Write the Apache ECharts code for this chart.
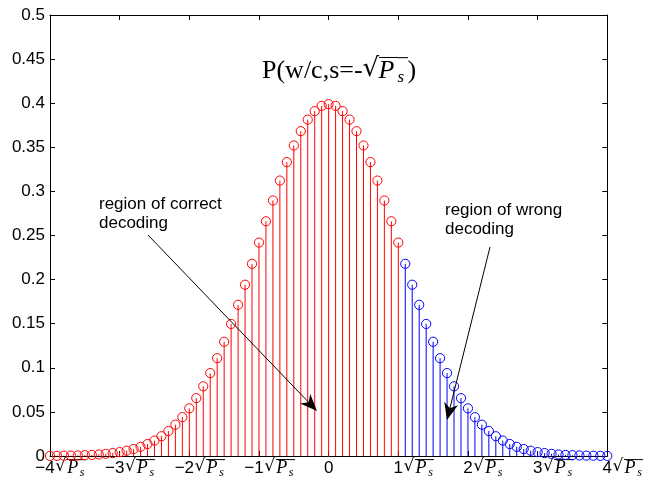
<!DOCTYPE html>
<html>
<head>
<meta charset="utf-8">
<script src="https://cdn.jsdelivr.net/npm/echarts@6/dist/echarts.min.js"></script>
<style>html,body{margin:0;padding:0;background:#fff}#c{width:646px;height:481px}</style>
</head>
<body>
<div id="c"></div>
<script>
// x positions (in units of sqrt(Ps)) and probabilities
var redX = [-4.0,-3.9,-3.8,-3.7,-3.6,-3.5,-3.4,-3.3,-3.2,-3.1,-3.0,-2.9,-2.8,-2.7,-2.6,-2.5,-2.4,-2.3,-2.2,-2.1,-2.0,-1.9,-1.8,-1.7,-1.6,-1.5,-1.4,-1.3,-1.2,-1.1,-1.0,-0.9,-0.8,-0.7,-0.6,-0.5,-0.4,-0.3,-0.2,-0.1,0.0,0.1,0.2,0.3,0.4,0.5,0.6,0.7,0.8,0.9,1.0];
var redY = [0.0001,0.0002,0.0003,0.0004,0.0006,0.0009,0.0012,0.0017,0.0024,0.0033,0.0044,0.0060,0.0079,0.0104,0.0136,0.0175,0.0224,0.0283,0.0355,0.0440,0.0540,0.0656,0.0790,0.0940,0.1109,0.1295,0.1497,0.1714,0.1942,0.2179,0.2420,0.2661,0.2897,0.3123,0.3332,0.3521,0.3683,0.3814,0.3910,0.3970,0.3989,0.3970,0.3910,0.3814,0.3683,0.3521,0.3332,0.3123,0.2897,0.2661,0.2420];
var blueX = [1.1,1.2,1.3,1.4,1.5,1.6,1.7,1.8,1.9,2.0,2.1,2.2,2.3,2.4,2.5,2.6,2.7,2.8,2.9,3.0,3.1,3.2,3.3,3.4,3.5,3.6,3.7,3.8,3.9,4.0];
var blueY = [0.2179,0.1942,0.1714,0.1497,0.1295,0.1109,0.0940,0.0790,0.0656,0.0540,0.0440,0.0355,0.0283,0.0224,0.0175,0.0136,0.0104,0.0079,0.0060,0.0044,0.0033,0.0024,0.0017,0.0012,0.0009,0.0006,0.0004,0.0003,0.0002,0.0001];
var xTicks = [-4,-3,-2,-1,0,1,2,3,4];
var yTicks = [0,0.05,0.1,0.15,0.2,0.25,0.3,0.35,0.4,0.45,0.5];
var titleMain = 'P(w/c,s=-';
var noteCorrect = 'region of correct\ndecoding';
var noteWrong = 'region of wrong\ndecoding';

function zip(xs, ys){ return xs.map(function(x,i){ return [x, ys[i]]; }); }

// small image used to draw an overline (vinculum) above a rich-text token
function barImage(h, row, thick){
  var c = document.createElement('canvas');
  c.width = 4; c.height = h;
  var ctx = c.getContext('2d');
  ctx.fillStyle = '#000';
  ctx.fillRect(0, row, 4, thick);
  return c;
}

function stemRender(color){
  return function(params, api){
    var x = api.value(0), y = api.value(1);
    var p0 = api.coord([x, 0]);
    var p1 = api.coord([x, y]);
    return {
      type: 'group',
      children: [
        {type:'line', shape:{x1:p0[0],y1:p0[1],x2:p1[0],y2:p1[1]}, style:{stroke:color,lineWidth:1}},
        {type:'circle', shape:{cx:p1[0],cy:p1[1],r:4.6}, style:{fill:'none',stroke:color,lineWidth:1}}
      ]
    };
  };
}

var RW = 12, PW = 12, SW = 7, MW = 10;
var S_W = RW + PW + SW;
var xBar = barImage(20, 1, 1);
var xRich = {
  n:{fontFamily:'Liberation Sans',fontSize:17,color:'#000',verticalAlign:'top',padding:[2,0,0,0]},
  r:{fontFamily:'DejaVu Sans',fontSize:17,color:'#000',width:RW,verticalAlign:'top',padding:[0,0,0,0]},
  p:{fontFamily:'Liberation Serif',fontStyle:'italic',fontSize:18,color:'#000',width:PW,verticalAlign:'top',padding:[1,0,0,0],backgroundColor:{image:xBar}},
  s:{fontFamily:'Liberation Serif',fontStyle:'italic',fontSize:12,color:'#000',width:SW,verticalAlign:'top',padding:[9,0,0,0],backgroundColor:{image:xBar}},
  hp:{width:S_W,verticalAlign:'top'},
  hn:{width:S_W-MW,verticalAlign:'top'}
};
var tBar = barImage(28, 1, 1);

var chart = echarts.init(document.getElementById('c'), null, {renderer:'canvas'});
var option = {
  animation:false,
  grid:{left:50,right:36,top:15,bottom:25,containLabel:false},
  xAxis:[{
    type:'value',min:-4,max:4,interval:1,position:'bottom',
    axisLine:{show:true,onZero:false,lineStyle:{color:'#000',width:1}},
    axisTick:{show:true,inside:true,length:5,lineStyle:{color:'#000'}},
    splitLine:{show:false},
    axisLabel:{margin:2,verticalAlign:'top',rich:xRich,formatter:function(v){
      if (v===0) return '{n|0}';
      var neg = v<0;
      return (neg?'{hn|}':'{hp|}') + '{n|' + (neg?'\u2212':'') + Math.abs(v) + '}{r|\u221A}{p|P}{s|s}';
    }}
  },{
    type:'value',min:-4,max:4,interval:1,position:'top',
    axisLine:{show:true,onZero:false,lineStyle:{color:'#000',width:1}},
    axisTick:{show:true,inside:true,length:5,lineStyle:{color:'#000'}},
    axisLabel:{show:false},splitLine:{show:false}
  }],
  yAxis:[{
    type:'value',min:0,max:0.5,interval:0.05,position:'left',
    axisLine:{show:true,onZero:false,lineStyle:{color:'#000',width:1}},
    axisTick:{show:true,inside:true,length:5,lineStyle:{color:'#000'}},
    splitLine:{show:false},
    axisLabel:{margin:5,fontFamily:'Liberation Sans',fontSize:17,color:'#000',formatter:function(v){return String(Math.round(v*100)/100);}}
  },{
    type:'value',min:0,max:0.5,interval:0.05,position:'right',
    axisLine:{show:true,onZero:false,lineStyle:{color:'#000',width:1}},
    axisTick:{show:true,inside:true,length:5,lineStyle:{color:'#000'}},
    axisLabel:{show:false},splitLine:{show:false}
  }],
  series:[
    {type:'custom',xAxisIndex:0,yAxisIndex:0,clip:false,renderItem:stemRender('#ff0000'),data:zip(redX,redY),z:3},
    {type:'custom',xAxisIndex:0,yAxisIndex:0,clip:false,renderItem:stemRender('#0000ff'),data:zip(blueX,blueY),z:3}
  ],
  graphic:[
    {type:'text',left:262,top:56,z:10,style:{
      text:'{a|'+titleMain+'}{r|\u221A}{p|P}{s|s}{a|)}',
      rich:{
        a:{fontFamily:'Liberation Serif',fontSize:26,color:'#000',verticalAlign:'top',padding:[2,0,0,0]},
        r:{fontFamily:'DejaVu Sans',fontSize:26,color:'#000',width:16,verticalAlign:'top',padding:[0,0,0,0]},
        p:{fontFamily:'Liberation Serif',fontStyle:'italic',fontSize:26,color:'#000',width:19,verticalAlign:'top',padding:[2,0,0,0],backgroundColor:{image:tBar}},
        s:{fontFamily:'Liberation Serif',fontStyle:'italic',fontSize:17,color:'#000',width:10,verticalAlign:'top',padding:[13,0,0,0],backgroundColor:{image:tBar}}
      }}},
    {type:'text',left:99,top:195,z:10,style:{text:noteCorrect,fontFamily:'Liberation Sans',fontSize:17,lineHeight:19,fill:'#000'}},
    {type:'text',left:445,top:201,z:10,style:{text:noteWrong,fontFamily:'Liberation Sans',fontSize:17,lineHeight:19,fill:'#000'}}
  ]
};
chart.setOption(option);

function arrow(x1,y1,x2,y2){
  var dx=x2-x1, dy=y2-y1, L=Math.sqrt(dx*dx+dy*dy);
  var ux=dx/L, uy=dy/L, nx=-uy, ny=ux;
  var len=17, w=7, notch=5;
  var bx=x2-ux*len, by=y2-uy*len;
  return [
    {type:'line',z:20,shape:{x1:x1,y1:y1,x2:x2-ux*6,y2:y2-uy*6},style:{stroke:'#000',lineWidth:1}},
    {type:'polygon',z:20,shape:{points:[[x2,y2],[bx+nx*w,by+ny*w],[x2-ux*(len-notch),y2-uy*(len-notch)],[bx-nx*w,by-ny*w]]},style:{fill:'#000'}}
  ];
}
var g = option.graphic.concat(arrow(148,235,317,411), arrow(490,247,447,420));
chart.setOption({graphic:g});
</script>
</body>
</html>
